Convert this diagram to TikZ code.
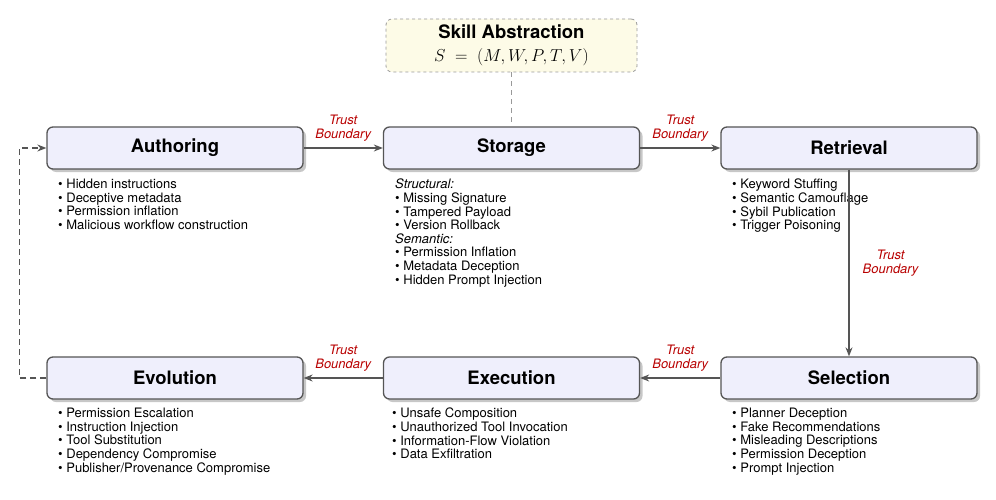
\documentclass[tikz,border=0pt]{standalone}
\usepackage{fontspec}
\setmainfont{TeX Gyre Heros}
\usetikzlibrary{shadows,arrows.meta}
\definecolor{stagefill}{HTML}{EFEFFC}
\definecolor{stageline}{HTML}{555555}
\definecolor{skillfill}{HTML}{FDFBE7}
\definecolor{trustred}{HTML}{B80000}
\begin{document}
\begin{tikzpicture}[x=1pt,y=-1pt,>={Stealth[length=9pt,width=7pt]},
  stage/.style={draw=stageline,line width=1.3pt,rounded corners=6pt,fill=stagefill,
    minimum width=256pt,minimum height=42pt,font=\fontsize{18.5}{20}\selectfont\bfseries,
    drop shadow={shadow xshift=3pt,shadow yshift=-3pt,fill=black!22,opacity=1}},
  threats/.style={anchor=north west,inner sep=0pt,align=left,font=\fontsize{13}{13.6}\selectfont},
  flow/.style={->,draw=stageline,line width=1.3pt},
  trust/.style={font=\fontsize{13}{14}\selectfont\itshape,text=trustred,align=center,inner sep=1pt}]
  \useasboundingbox (0,0) rectangle (996,500);

  \node[draw=black!40,dashed,rounded corners=6pt,fill=skillfill,line width=0.8pt,
    minimum width=251pt,minimum height=53pt,align=center,
    font=\fontsize{18.5}{23}\selectfont] (skill) at (511.5,45.5)
    {\bfseries Skill Abstraction\\
     \fontsize{19}{23}\selectfont$S \;=\; (M,W,P,T,V)$};

  \node[stage] (auth) at (175,148) {Authoring};
  \node[stage] (stor) at (511.5,148) {Storage};
  \node[stage] (retr) at (849,148) {Retrieval};
  \node[stage] (evo) at (175,378) {Evolution};
  \node[stage] (exec) at (511.5,378) {Execution};
  \node[stage] (sel) at (849,378) {Selection};

  \node[threats] (authlist) at (58,179) {\textbullet{} Hidden instructions\\
    \textbullet{} Deceptive metadata\\ \textbullet{} Permission inflation\\
    \textbullet{} Malicious workflow construction};
  \node[threats] (storlist) at (395,179) {\textit{Structural:}\\
    \textbullet{} Missing Signature\\ \textbullet{} Tampered Payload\\
    \textbullet{} Version Rollback\\ \textit{Semantic:}\\
    \textbullet{} Permission Inflation\\ \textbullet{} Metadata Deception\\
    \textbullet{} Hidden Prompt Injection};
  \node[threats] (retrlist) at (732,179) {\textbullet{} Keyword Stuffing\\
    \textbullet{} Semantic Camouflage\\ \textbullet{} Sybil Publication\\
    \textbullet{} Trigger Poisoning};
  \node[threats] (evolist) at (58,408) {\textbullet{} Permission Escalation\\
    \textbullet{} Instruction Injection\\ \textbullet{} Tool Substitution\\
    \textbullet{} Dependency Compromise\\ \textbullet{} Publisher/Provenance Compromise};
  \node[threats] (execlist) at (392,408) {\textbullet{} Unsafe Composition\\
    \textbullet{} Unauthorized Tool Invocation\\ \textbullet{} Information-Flow Violation\\
    \textbullet{} Data Exfiltration};
  \node[threats] (sellist) at (732,408) {\textbullet{} Planner Deception\\
    \textbullet{} Fake Recommendations\\ \textbullet{} Misleading Descriptions\\
    \textbullet{} Permission Deception\\ \textbullet{} Prompt Injection};

  \draw[draw=black!40,line width=0.8pt,dash pattern=on 5pt off 4pt] (skill) -- (stor);

  \draw[flow] (auth) -- node[trust,above=5pt] {Trust\\Boundary} (stor);
  \draw[flow] (stor) -- node[trust,above=5pt] {Trust\\Boundary} (retr);
  \draw[flow] (retr) -- node[trust,right=12pt] {Trust\\Boundary} (sel);
  \draw[flow] (sel) -- node[trust,above=5pt] {Trust\\Boundary} (exec);
  \draw[flow] (exec) -- node[trust,above=5pt] {Trust\\Boundary} (evo);
  \draw[flow,dash pattern=on 6pt off 4pt] (evo.west) -- ++(-27,0) |- (auth.west);
\end{tikzpicture}
\end{document}
